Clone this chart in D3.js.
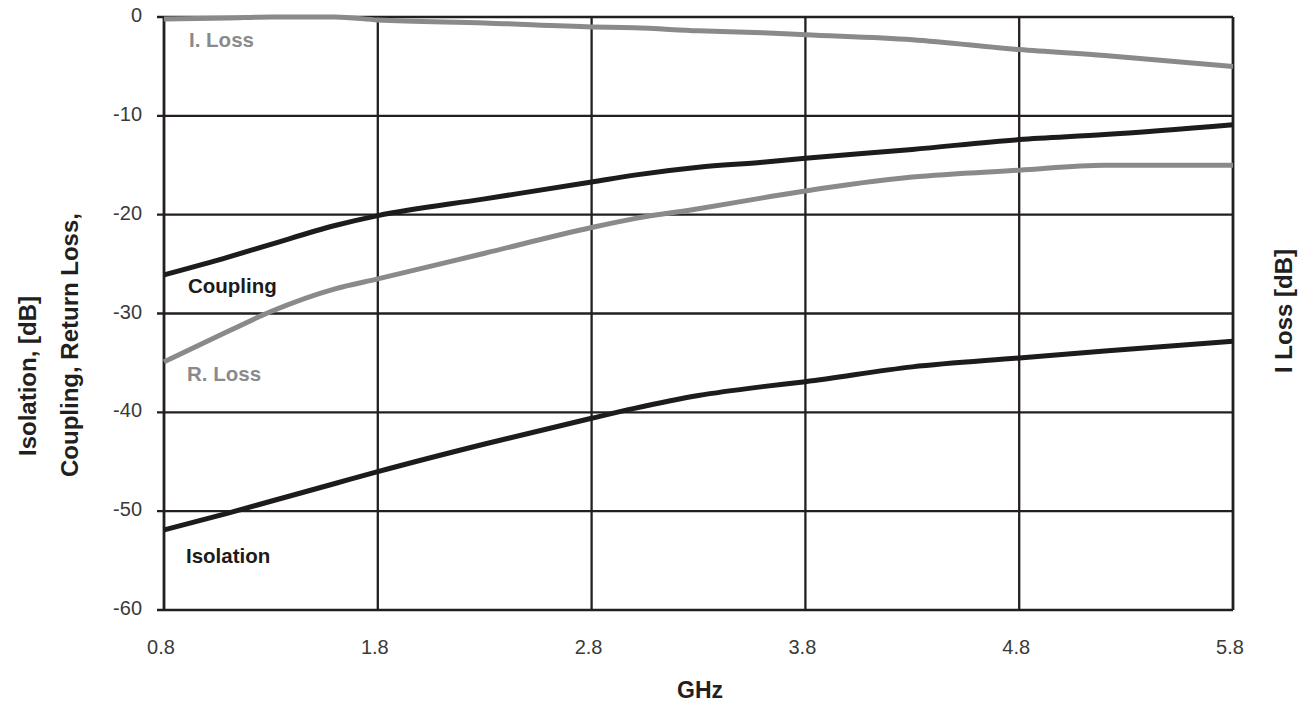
<!DOCTYPE html>
<html>
<head>
<meta charset="utf-8">
<script src="https://cdn.jsdelivr.net/npm/d3@7"></script>
<style>
  body { margin: 0; background: #fff; }
  text { font-family: "Liberation Sans", Arial, sans-serif; }
</style>
</head>
<body>
<svg id="chart" width="1303" height="705"></svg>
<script>
const width = 1303,
  height = 705;

const margin = { top: 17, right: 70, bottom: 95, left: 164 };

// values (GHz, dB)
const freq = [0.8, 1.1, 1.3, 1.6, 1.8, 2.3, 2.8, 3.0, 3.3, 3.6, 3.8, 4.3, 4.8, 5.2, 5.8];
const iLoss = [-0.2, -0.1, 0, 0, -0.3, -0.6, -1.0, -1.1, -1.4, -1.6, -1.8, -2.3, -3.3, -3.9, -5.0];
const coupling = [-26.1, -24.3, -23.0, -21.1, -20.1, -18.4, -16.7, -16.0, -15.2, -14.7, -14.3, -13.4, -12.4, -11.9, -10.9];
const rLoss = [-34.9, -31.8, -29.8, -27.5, -26.5, -23.9, -21.3, -20.4, -19.4, -18.3, -17.6, -16.2, -15.5, -15.0, -15.0];
const isolation = [-51.9, -50.2, -49.0, -47.2, -46.0, -43.2, -40.6, -39.6, -38.3, -37.4, -36.9, -35.4, -34.5, -33.8, -32.8];

const xTicks = [0.8, 1.8, 2.8, 3.8, 4.8, 5.8];
const yTicks = [0, -10, -20, -30, -40, -50, -60];

const series = [
  { name: "I. Loss", values: iLoss, color: "#8a8a8d", lx: 189, ly: 47 },
  { name: "Coupling", values: coupling, color: "#1d1b1b", lx: 188, ly: 293 },
  { name: "R. Loss", values: rLoss, color: "#8a8a8d", lx: 187, ly: 381 },
  { name: "Isolation", values: isolation, color: "#1d1b1b", lx: 186, ly: 563 },
];

const svg = d3.select("#chart");

const x = d3
  .scaleLinear()
  .domain([0.8, 5.8])
  .range([margin.left, width - margin.right]);

const y = d3
  .scaleLinear()
  .domain([-60, 0])
  .range([height - margin.bottom, margin.top]);

// grid
svg
  .append("g")
  .selectAll("line")
  .data(yTicks)
  .join("line")
  .attr("x1", margin.left - 7)
  .attr("x2", width - margin.right)
  .attr("y1", (d) => y(d))
  .attr("y2", (d) => y(d))
  .attr("stroke", "#231f20")
  .attr("stroke-width", 2.3);

svg
  .append("g")
  .selectAll("line")
  .data(xTicks)
  .join("line")
  .attr("x1", (d) => x(d))
  .attr("x2", (d) => x(d))
  .attr("y1", y(0))
  .attr("y2", y(-60))
  .attr("stroke", "#231f20")
  .attr("stroke-width", (d, i) => (i == 0 || i == xTicks.length - 1 ? 2.8 : 2.3));

// tick labels
svg
  .append("g")
  .selectAll("text")
  .data(yTicks)
  .join("text")
  .attr("x", margin.left - 22)
  .attr("y", (d) => y(d) + 5)
  .attr("text-anchor", "end")
  .style("font-size", "20px")
  .style("fill", "#3a3a3a")
  .text((d) => d);

svg
  .append("g")
  .selectAll("text")
  .data(xTicks)
  .join("text")
  .attr("x", (d) => x(d) - 3)
  .attr("y", 654)
  .attr("text-anchor", "middle")
  .style("font-size", "20px")
  .style("fill", "#3a3a3a")
  .text((d) => d.toFixed(1));

// curves
const line = d3
  .line()
  .x((d, i) => x(freq[i]))
  .y((d) => y(d))
  .curve(d3.curveMonotoneX);

svg
  .append("g")
  .selectAll("path")
  .data(series)
  .join("path")
  .attr("d", (d) => line(d.values))
  .attr("fill", "none")
  .attr("stroke", (d) => d.color)
  .attr("stroke-width", 5);

svg
  .append("g")
  .selectAll("text")
  .data(series)
  .join("text")
  .attr("x", (d) => d.lx)
  .attr("y", (d) => d.ly)
  .style("font-size", "20.5px")
  .style("font-weight", "bold")
  .style("fill", (d) => d.color)
  .text((d) => d.name);

// axis titles
svg
  .append("text")
  .attr("x", 700)
  .attr("y", 698)
  .attr("text-anchor", "middle")
  .style("font-size", "23px")
  .style("font-weight", "bold")
  .style("fill", "#231f20")
  .text("GHz");

svg
  .append("text")
  .attr("transform", "translate(36,376) rotate(-90)")
  .attr("text-anchor", "middle")
  .style("font-size", "24px")
  .style("font-weight", "bold")
  .style("fill", "#231f20")
  .text("Isolation, [dB]");

svg
  .append("text")
  .attr("transform", "translate(78,345) rotate(-90)")
  .attr("text-anchor", "middle")
  .style("font-size", "24px")
  .style("font-weight", "bold")
  .style("fill", "#231f20")
  .text("Coupling, Return Loss,");

svg
  .append("text")
  .attr("transform", "translate(1292,311) rotate(-90)")
  .attr("text-anchor", "middle")
  .style("font-size", "24px")
  .style("font-weight", "bold")
  .style("fill", "#231f20")
  .text("I Loss [dB]");
</script>
</body>
</html>
